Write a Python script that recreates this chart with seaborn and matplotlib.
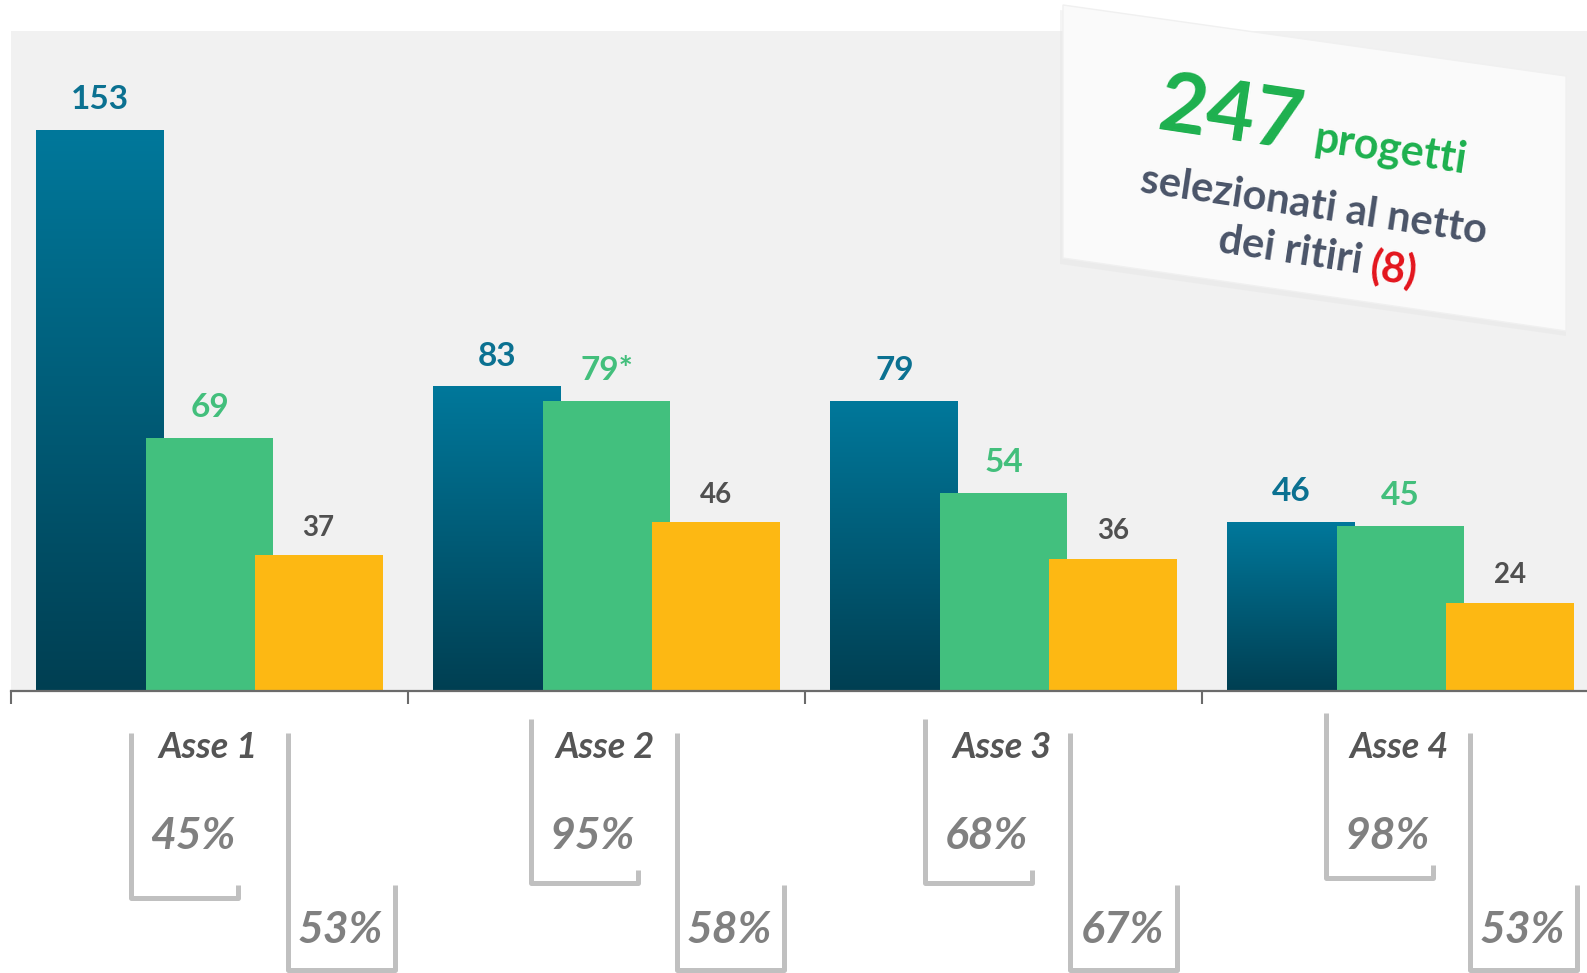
import numpy as np
import pandas as pd
import matplotlib
matplotlib.use("Agg")
import matplotlib.pyplot as plt
import seaborn as sns
from matplotlib.colors import LinearSegmentedColormap
from matplotlib.patches import Polygon

# ---------------- data ----------------
categories = ["Asse 1", "Asse 2", "Asse 3", "Asse 4"]
series_names = ["Serie 1", "Serie 2", "Serie 3"]
values_blue = [153, 83, 79, 46]
values_green = [69, 79, 54, 45]
values_yellow = [37, 46, 36, 24]
labels_blue = ["153", "83", "79", "46"]
labels_green = ["69", "79*", "54", "45"]
labels_yellow = ["37", "46", "36", "24"]
pct_left = ["45%", "95%", "68%", "98%"]
pct_right = ["53%", "58%", "67%", "53%"]
box_total = "247"
box_word = "progetti"
box_line2 = "selezionati al netto"
box_line3 = "dei ritiri"
box_withdrawn = "(8)"

# ---------------- style ----------------
sns.set_theme(style="white")
plt.rcParams["font.family"] = ["Lato", "DejaVu Sans"]

BLUE_TOP = "#00789b"
BLUE_BOT = "#003f52"
GREEN = "#42c07e"
YELLOW = "#fdb813"
W, H = 1587, 973

df = pd.DataFrame({
    "cat": categories * 3,
    "serie": [s for s in series_names for _ in categories],
    "val": values_blue + values_green + values_yellow,
})

fig = plt.figure(figsize=(W / 100, H / 100), dpi=100)
fig.patch.set_facecolor("white")
ax = fig.add_axes([11 / W, (H - 691) / H, 1588 / W, 660 / H])
ax.set_facecolor("#f1f1f1")

sns.barplot(data=df, x="cat", y="val", hue="serie", order=categories,
            hue_order=series_names, palette=[BLUE_TOP, GREEN, YELLOW],
            width=0.825, saturation=1, legend=False, ax=ax, errorbar=None)

bar_w = 0.322
for cont in ax.containers:
    for p in cont:
        c = p.get_x() + p.get_width() / 2
        p.set_x(c - bar_w / 2)
        p.set_width(bar_w)
        p.set_edgecolor("none")
        p.set_linewidth(0)

# gradient for the blue bars
cmap = LinearSegmentedColormap.from_list("bl", [BLUE_BOT, BLUE_TOP])
grad = np.linspace(1, 0, 256).reshape(-1, 1)
for p in ax.containers[0]:
    x0, w, h = p.get_x(), p.get_width(), p.get_height()
    ax.imshow(grad, cmap=cmap, extent=[x0, x0 + w, 0, h], aspect="auto",
              origin="upper", zorder=0.9, interpolation="bicubic")
    p.set_facecolor("none")

ax.set_xlim(-0.5, 3.5)
ax.set_ylim(0, 180)
ax.set_xlabel("")
ax.set_ylabel("")
ax.set_yticks([])
ax.set_xticks([-0.5, 0.5, 1.5, 2.5, 3.5])
ax.set_xticklabels([])
ax.tick_params(axis="x", length=9.5, width=1.5, color="#6b6b6b", direction="out", bottom=True)
for s in ["top", "left", "right"]:
    ax.spines[s].set_visible(False)
ax.spines["bottom"].set_color("#6b6b6b")
ax.spines["bottom"].set_linewidth(1.6)

# value labels
label_specs = [(ax.containers[0], labels_blue, "#0b7191", 24, 22),
               (ax.containers[1], labels_green, "#43bf7c", 24, 22),
               (ax.containers[2], labels_yellow, "#505050", 20, 20)]
for cont, labs, col, fs, off in label_specs:
    for p, t in zip(cont, labs):
        ax.annotate(t, (p.get_x() + p.get_width() / 2, p.get_height()),
                    xytext=(0, off), textcoords="offset points",
                    ha="center", va="center", color=col, fontsize=fs,
                    fontweight="bold", zorder=5)

# ---------------- overlay (pixel coordinates) ----------------
ov = fig.add_axes([0, 0, 1, 1], zorder=5)
ov.set_xlim(0, W)
ov.set_ylim(H, 0)
ov.axis("off")
ov.patch.set_alpha(0)

left_off = [-79, -76, -79, -75]
right_off = [78, 70, 66, 69]
left_top = [733, 719, 719, 713]
left_bot = [898, 883, 883, 878]
BR = "#c0c0c0"
for i, cat in enumerate(categories):
    cx = ax.transData.transform((i, 0))[0]
    lx = cx + left_off[i]
    rx = cx + right_off[i]
    # left bracket
    ov.plot([lx, lx, lx + 107, lx + 107],
            [left_top[i], left_bot[i], left_bot[i], left_bot[i] - 13],
            color=BR, lw=3.6, solid_joinstyle="round", solid_capstyle="butt")
    # right bracket
    ov.plot([rx, rx, rx + 107, rx + 107],
            [733, 970, 970, 885],
            color=BR, lw=3.6, solid_joinstyle="round", solid_capstyle="butt")
    ov.text(cx - 1, 747, cat, ha="center", va="center", fontsize=26,
            fontweight="bold", fontstyle="italic", color="#555555")
    ov.text(lx + 62, 836, pct_left[i], ha="center", va="center", fontsize=32,
            fontweight="bold", fontstyle="italic", color="#808080")
    ov.text(rx + 53, 930, pct_right[i], ha="center", va="center", fontsize=32,
            fontweight="bold", fontstyle="italic", color="#808080")

# tilted info box
shadow = Polygon([(1060, 10), (1566, 82), (1566, 336), (1060, 264)], closed=True,
                 facecolor="#e2e2e2", edgecolor="none", alpha=0.35, zorder=1)
ov.add_patch(shadow)
box = Polygon([(1063, 5), (1566, 76), (1566, 331), (1063, 258)], closed=True,
              facecolor="#fafafa", edgecolor="#f0f0f0", lw=1, zorder=2)
ov.add_patch(box)
rot = -8.5
ov.text(1231, 116, box_total, ha="center", va="center", rotation=rot,
        rotation_mode="anchor", fontsize=60, fontweight="bold", color="#1db04e", zorder=3)
ov.text(1390, 149, box_word, ha="center", va="center", rotation=rot,
        rotation_mode="anchor", fontsize=31, fontweight="bold", color="#1db04e", zorder=3)
ov.text(1314, 206, box_line2, ha="center", va="center", rotation=rot,
        rotation_mode="anchor", fontsize=30, fontweight="bold", color="#4a5468", zorder=3)
ov.text(1290, 251, box_line3, ha="center", va="center", rotation=rot,
        rotation_mode="anchor", fontsize=30, fontweight="bold", color="#4a5468", zorder=3)
ov.text(1394, 269, box_withdrawn, ha="center", va="center", rotation=rot,
        rotation_mode="anchor", fontsize=30, fontweight="bold", color="#e3141c", zorder=3)

fig.savefig("out.png", dpi=100, facecolor="white")
